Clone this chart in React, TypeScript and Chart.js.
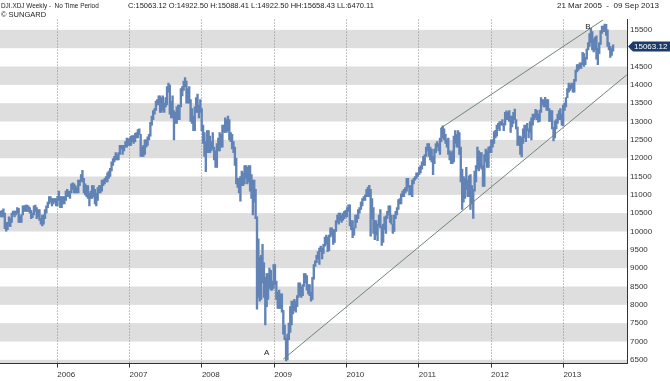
import React, { useEffect, useRef } from 'react';
import { Chart, registerables } from 'chart.js';

Chart.register(...registerables);

// ---- data: weekly high / low of DJI.XDJ ----
const firstWeek = '2005-03-21';

const weeklyLows = [
  // 2005 (from 21 Mar)
  10400, 10400, 10400, 10080, 10010, 10050, 10150, 10130, 10250, 10450, 10400, 10450, 10500, 10250, 10250, 10250, 10450, 10550, 10550, 10550,
  10550, 10500, 10350, 10380, 10450, 10550, 10350, 10400, 10300, 10200, 10150, 10200, 10350, 10500, 10650, 10750, 10800, 10700, 10750, 10800, 10700,
  // 2006
  10700, 10850, 10650, 10650, 10750, 10750, 10850, 10950, 10950, 10900, 11050, 11150, 11050, 11050, 11050, 11050, 11250, 11350, 11350, 11050,
  11000, 10950, 10900, 10700, 10900, 10900, 10950, 10750, 10700, 10850, 11050, 11050, 11100, 11250, 11300, 11350, 11350, 11450, 11500, 11650,
  11800, 11900, 11950, 11950, 11950, 12100, 12250, 12100, 12200, 12300, 12300, 12350,
  // 2007
  12350, 12350, 12450, 12400, 12450, 12550, 12550, 12650, 12050, 12050, 12050, 12100, 12300, 12350, 12500, 12600, 12900, 13050, 13200, 13300,
  13450, 13450, 13250, 13250, 13300, 13250, 13400, 13450, 13800, 13200, 13100, 13100, 12500, 12950, 12950, 13050, 13050, 13400, 13700, 13850,
  13950, 13500, 13500, 13500, 13000, 12950, 12750, 12750, 13250, 13250, 13100, 13250, 12750,
  // 2008
  12400, 12050, 11630, 12150, 12150, 12150, 12200, 12250, 11950, 11750, 11750, 12200, 12200, 12300, 12300, 12700, 12700, 12700, 12750, 12500,
  12450, 12250, 12150, 11800, 11300, 11200, 11050, 10830, 11250, 11250, 11300, 11450, 11300, 11350, 11100, 10900, 10450, 10800, 10350, 7880,
  8200, 8100, 8150, 8600, 8200, 7450, 7950, 8150, 8450, 8400, 8400, 8450,
  // 2009
  8550, 8150, 7900, 7900, 7900, 7800, 7200, 7050, 6470, 6500, 7050, 7250, 7450, 7750, 7850, 7800, 7950, 8200, 8250, 8200,
  8250, 8500, 8600, 8400, 8300, 8250, 8100, 8150, 8700, 9050, 9150, 9250, 9100, 9450, 9250, 9400, 9600, 9650, 9450, 9480,
  9850, 9900, 9650, 9700, 10000, 10250, 10200, 10300, 10250, 10300, 10350, 10400,
  // 2010
  10400, 10550, 10150, 10050, 9830, 9900, 10100, 10250, 10350, 10500, 10600, 10700, 10850, 10850, 10950, 10950, 10950, 9870, 10350, 9950,
  9780, 9900, 9750, 10150, 10100, 9620, 9700, 10050, 9950, 10350, 10450, 10250, 10200, 9950, 10000, 10350, 10450, 10600, 10750, 10750,
  10950, 10950, 11050, 11100, 11200, 11000, 11000, 10950, 11300, 11400, 11450, 11500,
  // 2011
  11550, 11600, 11700, 11800, 11800, 12050, 12200, 12050, 11950, 11900, 11550, 11850, 12150, 12300, 12200, 12100, 12450, 12550, 12500, 12400,
  12300, 12100, 11950, 11850, 11850, 11900, 12400, 12300, 12300, 12100, 11350, 10600, 10800, 10900, 11150, 10950, 10950, 10600, 10750, 10360,
  11100, 11350, 11700, 11650, 11750, 11700, 11230, 11230, 11900, 11750, 11750, 12150,
  // 2012
  12150, 12300, 12400, 12550, 12600, 12800, 12750, 12900, 12900, 12750, 12900, 13050, 13050, 13000, 12700, 12850, 12950, 13050, 12800, 12350,
  12350, 12100, 12035, 12400, 12550, 12450, 12750, 12550, 12700, 12500, 12900, 13050, 13100, 13050, 12980, 13000, 13250, 13450, 13400, 13400,
  13300, 13300, 13000, 13000, 12800, 12470, 12550, 12800, 12950, 13050, 13050, 12900, 12880,
  // 2013 (to 9 Sep)
  13300, 13400, 13650, 13800, 13850, 13900, 13800, 13800, 14100, 14350, 14400, 14450, 14450, 14550, 14500, 14550, 14700, 14950, 15050, 15150,
  14950, 14900, 14950, 14700, 14550, 14850, 15100, 15400, 15450, 15450, 15350, 15050, 14950, 14750, 14800, 14920,
];

const weeklyHighs = [
  // 2005 (from 21 Mar)
  10560, 10570, 10620, 10500, 10250, 10250, 10400, 10350, 10500, 10560, 10560, 10560, 10650, 10630, 10420, 10460, 10700, 10700, 10720, 10720,
  10700, 10650, 10580, 10500, 10700, 10720, 10650, 10600, 10600, 10350, 10450, 10450, 10600, 10700, 10800, 10950, 10950, 10900, 10900, 10900, 10900,
  // 2006
  10960, 11100, 10950, 10950, 10950, 10950, 11100, 11150, 11100, 11100, 11300, 11330, 11300, 11250, 11200, 11400, 11400, 11550, 11670, 11450,
  11300, 11250, 11250, 11050, 11100, 11250, 11250, 11150, 11050, 11200, 11250, 11250, 11400, 11400, 11450, 11500, 11600, 11650, 11720, 11900,
  11990, 12050, 12150, 12100, 12150, 12350, 12350, 12350, 12350, 12450, 12550, 12520,
  // 2007
  12550, 12600, 12620, 12620, 12680, 12700, 12780, 12800, 12650, 12300, 12350, 12500, 12500, 12580, 12650, 12980, 13150, 13300, 13350, 13560,
  13600, 13700, 13700, 13650, 13700, 13500, 13650, 13950, 14050, 14000, 13550, 13700, 13300, 13250, 13400, 13450, 13450, 13900, 13950, 14100,
  14200, 14100, 13900, 13950, 13600, 13350, 13150, 13400, 13650, 13750, 13450, 13600, 13350,
  // 2008
  12900, 12700, 12450, 12750, 12750, 12600, 12450, 12700, 12300, 12200, 12400, 12550, 12700, 12650, 12900, 12900, 13100, 13050, 13150, 13050,
  12700, 12650, 12450, 12300, 12000, 11450, 11450, 11500, 11650, 11600, 11800, 11800, 11750, 11800, 11800, 11550, 11400, 11400, 11150, 10400,
  9800, 9300, 9350, 9650, 9150, 8750, 8850, 8850, 9000, 8950, 8650, 9100,
  // 2009
  9100, 8650, 8350, 8400, 8300, 8300, 7850, 7450, 7100, 7200, 7500, 7950, 8100, 8100, 8150, 8100, 8250, 8600, 8600, 8500,
  8550, 8850, 8850, 8800, 8550, 8550, 8350, 8750, 9100, 9200, 9350, 9450, 9550, 9600, 9550, 9650, 9850, 9900, 9850, 9900,
  10100, 10100, 10050, 10050, 10300, 10450, 10500, 10500, 10450, 10500, 10550, 10580,
  // 2010
  10650, 10730, 10730, 10300, 10300, 10100, 10450, 10450, 10600, 10650, 10800, 10900, 10950, 11000, 11150, 11210, 11260, 11150, 10900, 10650,
  10300, 10300, 10200, 10450, 10600, 10150, 10200, 10400, 10430, 10550, 10700, 10700, 10450, 10200, 10450, 10550, 10650, 10870, 10900, 11030,
  11100, 11150, 11200, 11450, 11450, 11250, 11250, 11400, 11450, 11500, 11600, 11600,
  // 2011
  11750, 11800, 11900, 12050, 12100, 12300, 12400, 12400, 12300, 12250, 12050, 12250, 12400, 12450, 12400, 12550, 12820, 12880, 12800, 12650,
  12500, 12550, 12200, 12150, 12200, 12600, 12750, 12650, 12750, 12700, 12300, 11700, 11500, 11450, 11750, 11400, 11520, 11550, 11250, 11150,
  11650, 11800, 12300, 12200, 12150, 12150, 11800, 12100, 12250, 12200, 12300, 12320,
  // 2012
  12500, 12500, 12725, 12760, 12900, 12950, 13000, 13000, 13050, 12950, 13250, 13290, 13250, 13300, 13150, 13150, 13250, 13340, 13050, 12850,
  12600, 12600, 12560, 12800, 12900, 12900, 12950, 12800, 13000, 13100, 13200, 13200, 13330, 13300, 13200, 13310, 13650, 13600, 13600, 13660,
  13600, 13600, 13350, 13300, 13300, 12850, 13020, 13050, 13200, 13300, 13350, 13200, 13450,
  // 2013 (to 9 Sep)
  13500, 13650, 13900, 14050, 14000, 14050, 14050, 14150, 14400, 14550, 14550, 14600, 14600, 14890, 14850, 14750, 14980, 15150, 15400, 15540,
  15450, 15250, 15300, 15340, 15000, 15150, 15480, 15600, 15600, 15660, 15650, 15500, 15150, 15050, 15000, 15090,
];

const yearTicks = [2006, 2007, 2008, 2009, 2010, 2011, 2012, 2013];
const priceTicks = [6500, 7000, 7500, 8000, 8500, 9000, 9500, 10000, 10500, 11000, 11500, 12000, 12500, 13000, 13500, 14000, 14500, 15000, 15500];
const stripeBands = [
  [6000, 6500], [7000, 7500], [8000, 8500], [9000, 9500], [10000, 10500],
  [11000, 11500], [12000, 12500], [13000, 13500], [14000, 14500], [15000, 15500],
];
const lastClose = 15063.12;
const lastCloseText = '15063.12';

const lowerTrend = [
  { x: 2009.126, y: 6519 },
  { x: 2013.876, y: 14273 },
];
const upperTrend = [
  { x: 2011.303, y: 12819 },
  { x: 2013.55, y: 15773 },
];
const pivotLabels = [
  { text: 'A', x: 2008.896, y: 6690 },
  { text: 'B', x: 2013.34, y: 15590 },
];

const headerLeft = 'DJI.XDJ Weekly -  No Time Period';
const headerValues = 'C:15063.12 O:14922.50 H:15088.41 L:14922.50 HH:15658.43 LL:6470.11';
const headerRange = '21 Mar 2005  -  09 Sep 2013';
const headerCopyright = '\u00A9 SUNGARD';

const xMin = 2005.2075;
const xMax = 2013.88;
const yMin = 6400;
const yMax = 15780;

const FONT = '"Liberation Sans", Arial, sans-serif';

function toYear(ms: number) {
  const d = new Date(ms);
  const y = d.getUTCFullYear();
  const a = Date.UTC(y, 0, 1);
  const b = Date.UTC(y + 1, 0, 1);
  return y + (ms - a) / (b - a);
}

const stripePlugin = {
  id: 'stripes',
  beforeDraw(chart: any) {
    const { ctx, chartArea, scales } = chart;
    const y = scales.y;
    ctx.save();
    ctx.fillStyle = '#dedede';
    for (const [a, b] of stripeBands) {
      const top = Math.max(y.getPixelForValue(b), chartArea.top);
      const bot = Math.min(y.getPixelForValue(a), chartArea.bottom);
      if (bot > top) ctx.fillRect(chartArea.left, top, chartArea.right - chartArea.left, bot - top);
    }
    ctx.restore();
  },
};

const overlayPlugin = {
  id: 'overlay',
  afterDatasetsDraw(chart: any) {
    const { ctx, scales } = chart;
    ctx.save();
    ctx.fillStyle = '#222';
    ctx.font = `8px ${FONT}`;
    ctx.textAlign = 'center';
    ctx.textBaseline = 'middle';
    for (const l of pivotLabels) {
      ctx.fillText(l.text, scales.x.getPixelForValue(l.x), scales.y.getPixelForValue(l.y));
    }
    ctx.restore();
  },
  afterDraw(chart: any) {
    const { ctx, chartArea, scales } = chart;
    const y0 = Math.round(scales.y.getPixelForValue(lastClose)) + 0.5;
    const x0 = chartArea.right + 1;
    ctx.save();
    ctx.fillStyle = '#1d3b69';
    ctx.beginPath();
    ctx.moveTo(x0, y0);
    ctx.lineTo(x0 + 5, y0 - 5);
    ctx.lineTo(chart.width, y0 - 5);
    ctx.lineTo(chart.width, y0 + 5);
    ctx.lineTo(x0 + 5, y0 + 5);
    ctx.closePath();
    ctx.fill();
    ctx.fillStyle = '#ffffff';
    ctx.font = `8px ${FONT}`;
    ctx.textAlign = 'left';
    ctx.textBaseline = 'middle';
    ctx.fillText(lastCloseText, x0 + 6, y0);
    ctx.restore();
  },
};

export default function App() {
  const canvasRef = useRef<HTMLCanvasElement | null>(null);

  useEffect(() => {
    if (!canvasRef.current) return;
    const start = Date.parse(firstWeek);
    const n = Math.min(weeklyLows.length, weeklyHighs.length);
    const bars = [] as any[];
    for (let i = 0; i < n; i++) {
      bars.push({ x: toYear(start + i * 7 * 86400000), y: [weeklyLows[i], weeklyHighs[i]] });
    }

    const chart = new Chart(canvasRef.current, {
      type: 'bar',
      data: {
        datasets: [
          {
            type: 'line',
            data: lowerTrend,
            borderColor: '#6f847a',
            borderWidth: 1,
            pointRadius: 0,
            order: 0,
          } as any,
          {
            type: 'line',
            data: upperTrend,
            borderColor: '#6f847a',
            borderWidth: 1,
            pointRadius: 0,
            order: 0,
          } as any,
          {
            type: 'bar',
            data: bars,
            backgroundColor: '#6183b6',
            borderWidth: 0,
            barThickness: 1.7,
            order: 1,
          } as any,
        ],
      },
      options: {
        responsive: false,
        animation: false,
        devicePixelRatio: 1,
        layout: { padding: { top: 19.6, left: 0, right: 0, bottom: 0 } },
        plugins: { legend: { display: false }, tooltip: { enabled: false } },
        scales: {
          x: {
            type: 'linear',
            min: xMin,
            max: xMax,
            offset: false,
            afterBuildTicks: (s: any) => {
              s.ticks = yearTicks.map((v) => ({ value: v }));
            },
            afterFit: (s: any) => {
              s.height = 17.5;
            },
            grid: {
              display: true,
              offset: false,
              color: '#8a8a8a',
              lineWidth: 1,
              drawTicks: true,
              tickLength: 4,
              tickColor: '#333',
              tickBorderDash: [],
            },
            border: { display: true, color: '#333', width: 1, dash: [1, 2] },
            ticks: {
              autoSkip: false,
              maxRotation: 0,
              align: 'start',
              padding: 2,
              color: '#333',
              font: { family: FONT, size: 8 },
              callback: (v: any) => String(v),
            },
          },
          y: {
            type: 'linear',
            position: 'right',
            min: yMin,
            max: yMax,
            afterBuildTicks: (s: any) => {
              s.ticks = priceTicks.map((v) => ({ value: v }));
            },
            afterFit: (s: any) => {
              s.width = 43;
            },
            grid: { display: false, drawTicks: false },
            border: { display: true, color: '#333', width: 1 },
            ticks: {
              padding: 3,
              color: '#333',
              font: { family: FONT, size: 8 },
              callback: (v: any) => String(v),
            },
          },
        },
      } as any,
      plugins: [stripePlugin, overlayPlugin],
    });
    return () => chart.destroy();
  }, []);

  const textStyle: React.CSSProperties = {
    position: 'absolute',
    fontFamily: FONT,
    fontSize: 7.5,
    color: '#222',
    whiteSpace: 'pre',
    lineHeight: '9px',
    transformOrigin: 'left top',
  };

  return (
    <div style={{ position: 'fixed', left: 0, top: 0, width: 670, height: 381, background: '#fff', overflow: 'hidden' }}>
      <canvas ref={canvasRef} width={670} height={381} style={{ position: 'absolute', left: 0, top: 0 }} />
      <div style={{ ...textStyle, left: 1, top: 1, fontSize: 8, transform: 'scaleX(0.8)' }}>{headerLeft}</div>
      <div style={{ ...textStyle, left: 128, top: 1 }}>{headerValues}</div>
      <div style={{ ...textStyle, left: 557, top: 1, fontSize: 8 }}>{headerRange}</div>
      <div style={{ ...textStyle, left: 1, top: 10 }}>{headerCopyright}</div>
    </div>
  );
}
